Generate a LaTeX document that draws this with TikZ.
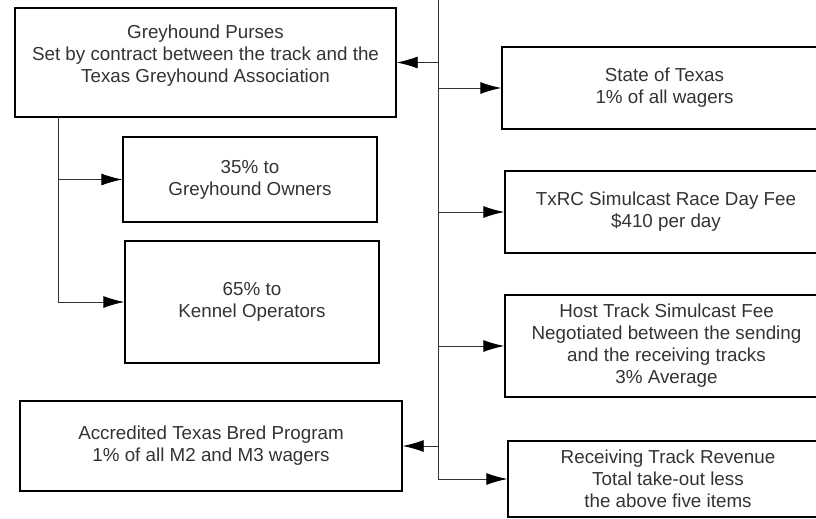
\documentclass[tikz,border=0pt]{standalone}
\usepackage{fontspec}
\setmainfont{Liberation Sans}
\usetikzlibrary{arrows.meta}

\begin{document}
\begin{tikzpicture}[x=1pt,y=-1pt,
    every edge/.style={draw,line width=0.9pt,black!80,-{Latex[length=21pt,width=12pt,black]}},
    money box/.style={draw,line width=1.4pt,align=center,inner sep=0pt,text=black!80,
      font=\fontsize{18.8}{22}\selectfont}]
\useasboundingbox (0,0) rectangle (816,519);

\node[money box,minimum width=381pt,minimum height=109pt] (purses)   at (205.5,62.5) {Greyhound Purses\\Set by contract between the track and the\\Texas Greyhound Association\\[-10pt] \strut};
\node[money box,minimum width=254pt,minimum height=85pt]  (owners)   at (250,179.5)  {35\% to\\Greyhound Owners};
\node[money box,minimum width=254pt,minimum height=122pt] (kennel)   at (252,302)    {65\% to\\Kennel Operators};
\node[money box,minimum width=382pt,minimum height=90pt]  (bred)     at (211,446)    {Accredited Texas Bred Program\\1\% of all M2 and M3 wagers};
\node[money box,minimum width=325pt,minimum height=82pt]  (state)    at (664.5,88)   {State of Texas\\1\% of all wagers};
\node[money box,minimum width=322pt,minimum height=82pt]  (txrc)     at (666,212)    {TxRC Simulcast Race Day Fee\\\$410 per day};
\node[money box,minimum width=323pt,minimum height=102pt] (host)     at (666.5,346)  {Host Track Simulcast Fee\\Negotiated between the sending\\and the receiving tracks\\3\% Average};
\node[money box,minimum width=320pt,minimum height=76pt]  (receiving) at (668,479)   {Receiving Track Revenue\\Total take-out less\\the above five items};

\coordinate (trunk) at (438,0);
\coordinate (split) at (58,117);

\path
(trunk) edge[to path={|- (\tikztotarget)}] (receiving.west)
(trunk |- purses.east) edge (purses.east)
(trunk |- state.west) edge (state.west)
(trunk |- txrc.west) edge (txrc.west)
(trunk |- host.west) edge (host.west)
(trunk |- bred.east) edge (bred.east)
(split) edge[to path={|- (\tikztotarget)}] (owners.west)
(split) edge[to path={|- (\tikztotarget)}] (kennel.west);
\end{tikzpicture}
\end{document}
